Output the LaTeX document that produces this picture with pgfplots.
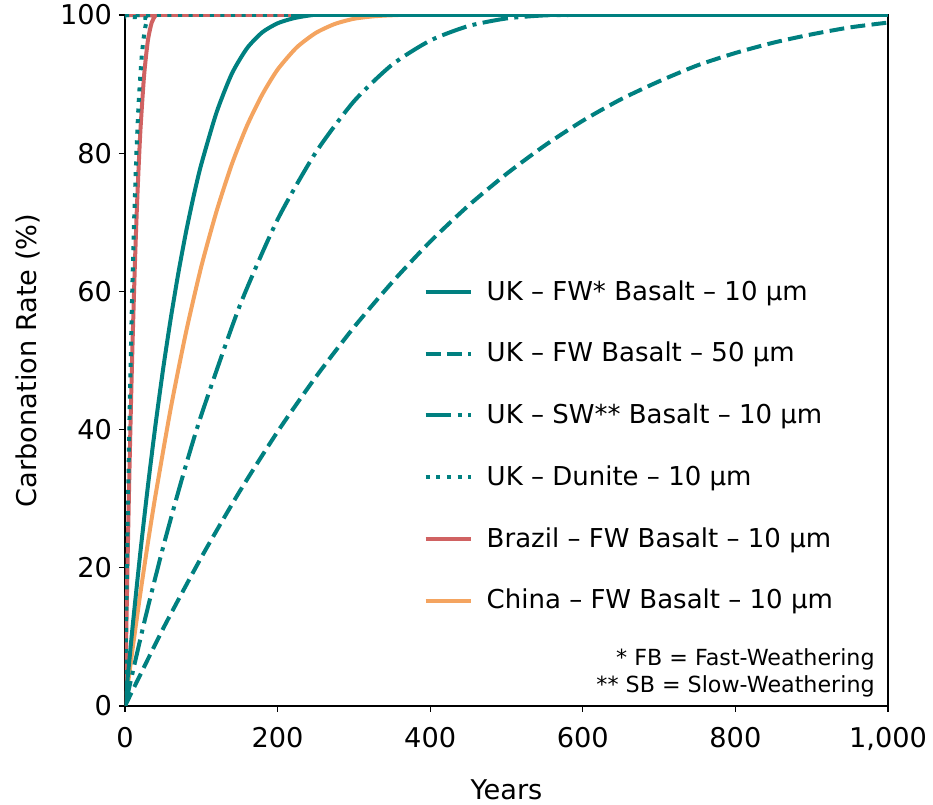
\documentclass[border=0pt]{standalone}
\usepackage{fontspec}
\setmainfont{DejaVu Sans}
\usepackage{pgfplots}
\pgfplotsset{compat=1.18}
\definecolor{UKteal}{RGB}{0,128,128}
\definecolor{BRred}{RGB}{208,98,98}
\definecolor{CNorange}{RGB}{244,164,96}
\newcommand{\tickfont}{\fontsize{13.6}{16}\selectfont}
\newcommand{\legfont}{\fontsize{13}{15.6}\selectfont}
\newcommand{\notefont}{\fontsize{11.1}{13.5}\selectfont}

\begin{document}
\begin{tikzpicture}
\begin{axis}[
  scale only axis,
  width=381.5pt, height=345.5pt,
  xmin=0, xmax=1000, ymin=0, ymax=100,
  xtick={0,200,400,600,800,1000},
  ytick={0,20,40,60,80,100},
  xtick pos=bottom, ytick pos=left,
  tick align=outside,
  major tick length=3pt,
  tick style={black, line width=0.6pt},
  axis line style={black, line width=0.6pt},
  /pgf/number format/assume math mode=true,
  /pgf/number format/1000 sep={,},
  tick label style={font=\tickfont},
  xticklabel style={yshift=-4pt},
  label style={font=\tickfont},
  xlabel={Years},
  ylabel={Carbonation Rate (\%)},
  xlabel style={yshift=-8pt},
  ylabel style={yshift=3pt},
  reverse legend,
  legend cell align=left,
  legend style={draw=none, fill=none, font=\legfont,
    at={(rel axis cs:0.391,0.376)}, anchor=west,
    row sep=15.5pt, inner sep=0pt,
    /tikz/every even column/.append style={column sep=8.5pt}},
  legend image code/.code={\draw[#1] (0pt,0pt) -- (22.5pt,0pt); \path (27.5pt,0pt);},
  every axis plot/.append style={line width=2pt, line cap=butt, smooth, tension=0.4},
]

% drawn back to front: China first, UK FW 10 um last (on top)
\addplot[CNorange] coordinates {
(0,0)(10,8.3)(20,16.2)(30,23.6)(40,30.5)(60,43.1)(80,54.1)(100,63.6)
(120,71.6)(140,78.4)(160,84.0)(180,88.5)(200,92.1)(225,95.3)(250,97.4)
(275,98.7)(300,99.45)(325,99.8)(350,99.96)(375,100)(1000,100)};
\addlegendentry{China – FW Basalt – 10 µm}

\addplot[BRred] coordinates {
(0,0)(2,12.7)(4,24.4)(6,34.9)(8,44.4)(10,52.9)(13,64.0)(16,73.2)
(20,82.9)(25,91.2)(30,96.3)(35,98.9)(40,99.9)(45,100)(1000,100)};
\addlegendentry{Brazil – FW Basalt – 10 µm}

\addplot[UKteal, dash pattern=on 2pt off 3.3pt] coordinates {
(0,0)(2,15.8)(4,29.8)(6,42.1)(8,52.9)(10,62.3)(12,70.4)(15,80.1)
(18,87.5)(22,94.1)(26,97.9)(30,99.5)(36,100)(1000,100)};
\addlegendentry{UK – Dunite – 10 µm}

\addplot[UKteal, dash pattern=on 12.8pt off 3.2pt on 2pt off 3.2pt] coordinates {
(0,0)(25,12.0)(50,23.0)(75,33.0)(100,42.1)(150,57.8)(200,70.4)(250,80.1)
(300,87.5)(350,92.8)(400,96.3)(450,98.4)(500,99.5)(550,99.94)(600,100)(1000,100)};
\addlegendentry{UK – SW** Basalt – 10 µm}

\addplot[UKteal, dash pattern=on 7.4pt off 3.2pt] coordinates {
(0,0)(50,11.2)(100,21.5)(150,31.0)(200,39.7)(250,47.6)(300,54.8)(350,61.3)
(400,67.2)(450,72.4)(500,77.0)(550,81.1)(600,84.7)(650,87.8)(700,90.4)
(750,92.7)(800,94.5)(850,96.0)(900,97.2)(950,98.2)(1000,98.9)};
\addlegendentry{UK – FW Basalt – 50 µm}

\addplot[UKteal] coordinates {
(0,0)(10,11.5)(20,22.1)(30,31.8)(40,40.7)(50,48.8)(60,56.1)(70,62.7)
(80,68.6)(90,73.8)(100,78.4)(120,85.9)(140,91.5)(160,95.2)(180,97.5)
(200,98.8)(220,99.5)(240,99.9)(260,100)(1000,100)};
\addlegendentry{UK – FW* Basalt – 10 µm}

\node[anchor=south east, align=right, inner sep=0pt, font=\notefont]
  at (rel axis cs:0.983,0.012) {* FB = Fast-Weathering\\** SB = Slow-Weathering};

\end{axis}
\pgfresetboundingbox
\path[use as bounding box] ([shift={(-62.5pt,-49.5pt)}]current axis.south west)
  rectangle ([shift={(22.5pt,7.5pt)}]current axis.north east);
\end{tikzpicture}
\end{document}
